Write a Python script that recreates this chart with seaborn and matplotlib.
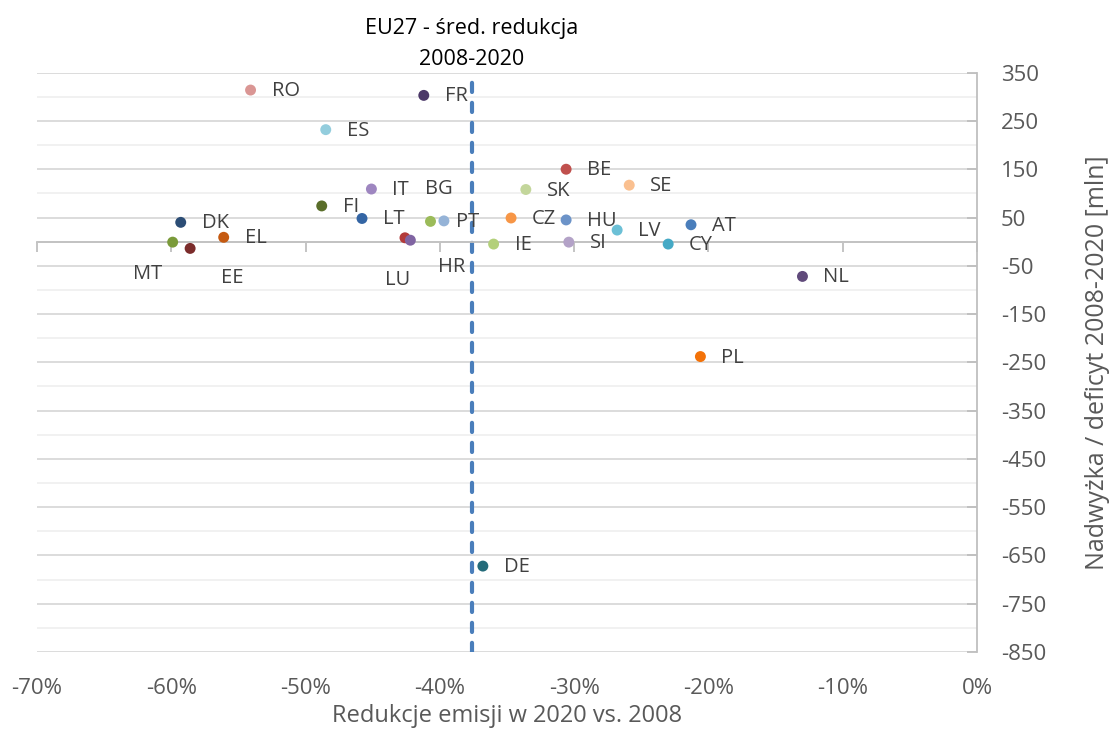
import matplotlib
matplotlib.use('Agg')
import matplotlib.pyplot as plt
import seaborn as sns
import pandas as pd
import numpy as np
from matplotlib.ticker import FixedLocator, FuncFormatter

# %%
# data
countries = ['RO', 'FR', 'ES', 'BE', 'SE', 'SK', 'IT', 'BG', 'FI', 'LT', 'PT', 'CZ',
             'HU', 'LV', 'AT', 'DK', 'EL', 'MT', 'EE', 'LU', 'HR', 'IE', 'SI', 'CY',
             'NL', 'PL', 'DE']
reduction = [-54.1, -41.2, -48.5, -30.6, -25.9, -33.6, -45.1, -40.7, -48.8, -45.8, -39.7, -34.7,
             -30.6, -26.8, -21.3, -59.3, -56.1, -59.9, -58.6, -42.6, -42.2, -36.0, -30.4, -23.0,
             -13.0, -20.6, -36.8]
balance = [314, 303, 232, 150, 117, 108, 109, 42, 74, 48, 43, 49,
           45, 24, 35, 40, 9, -1, -14, 8, 3, -5, -1, -5,
           -72, -238, -672]
colors = ['#da9694', '#4b3868', '#93cddd', '#c0504d', '#fac090', '#c3d69b', '#9e86c0', '#9bbb59',
          '#5a6e2a', '#3465a4', '#95b3d7', '#f79646', '#6c93c8', '#6cc0d6', '#4a7ebb', '#2c4d75',
          '#c55a11', '#7a9a3a', '#7b2c2b', '#b33a3a', '#8064a2', '#b3d07a', '#b3a2c7', '#45a9c5',
          '#604a7b', '#f37209', '#246b7a']
eu_avg = -37.6
x_ticks = np.arange(-70, 1, 10)

df = pd.DataFrame({'country': countries, 'reduction': reduction, 'balance': balance})

# labels that are not just to the right of the point (pixels)
label_offsets = {'BG': (8, 32, 'center'), 'PT': (12, -1, 'left'),
                 'MT': (-25, -32, 'center'), 'EE': (42, -30, 'center'),
                 'LU': (-7, -42, 'center'), 'HR': (41, -27, 'center')}

# %%
sns.set_theme(style='white')
plt.rcParams['font.family'] = ['Open Sans', 'DejaVu Sans']
plt.rcParams['axes.unicode_minus'] = False

fig = plt.figure(figsize=(11.09, 7.29), dpi=100)
ax = fig.add_axes([0.0334, 0.1056, 0.8476, 0.7947])

ax.axvline(eu_avg, color='#4a7ebb', lw=3, linestyle=(0, (2.2, 2.6)),
           dash_capstyle='round', zorder=2)

sns.scatterplot(data=df, x='reduction', y='balance', hue='country',
                palette=dict(zip(countries, colors)), s=62, edgecolor='none',
                legend=False, ax=ax, zorder=3)

for c, xv, yv in zip(countries, reduction, balance):
    dx, dy, ha = label_offsets.get(c, (21, -1, 'left'))
    ax.annotate(c, (xv, yv), xytext=(dx, dy), textcoords='offset pixels',
                ha=ha, va='center', fontsize=14.5, color='#404040', zorder=4)

ax.annotate('EU27 - śred. redukcja\n2008-2020', xy=(eu_avg, 1),
            xycoords=('data', 'axes fraction'), xytext=(0, 3), textcoords='offset pixels',
            ha='center', va='bottom', fontsize=15.5, color='black', linespacing=1.6)

ax.set_xlim(-70, 0)
ax.set_ylim(-850, 350)

# y axis on the right
ax.yaxis.tick_right()
ax.yaxis.set_label_position('right')
ax.yaxis.set_major_locator(FixedLocator(np.arange(-850, 351, 100)))
ax.yaxis.set_minor_locator(FixedLocator(np.arange(-800, 301, 100)))
ax.tick_params(axis='y', which='major', right=True, direction='in', length=7,
               width=1.3, color='#bfbfbf', pad=17, labelsize=16, labelcolor='#595959')
ax.tick_params(axis='y', which='minor', length=0)
ax.grid(axis='y', which='major', color='#d9d9d9', lw=1.3)
ax.grid(axis='y', which='minor', color='#f0f0f0', lw=1.3)
ax.set_axisbelow(True)
ax.set_ylabel('Nadwyżka / deficyt 2008-2020 [mln]', fontsize=18, color='#595959',
              labelpad=28)

# x axis line at zero, labels at the bottom
ax.spines['bottom'].set_position(('data', 0))
ax.spines['bottom'].set_color('#bfbfbf')
ax.spines['bottom'].set_linewidth(1.3)
ax.spines['right'].set_color('#bfbfbf')
ax.spines['right'].set_linewidth(1.3)
ax.spines['left'].set_visible(False)
ax.spines['top'].set_visible(False)
ax.xaxis.set_major_locator(FixedLocator(x_ticks))
ax.tick_params(axis='x', bottom=True, direction='out', length=7, width=1.3,
               color='#bfbfbf', labelbottom=False)
ax.set_xlabel('')

sec = ax.secondary_xaxis(0)
sec.xaxis.set_major_locator(FixedLocator(x_ticks))
sec.xaxis.set_major_formatter(FuncFormatter(lambda v, p: f'{v:.0f}%'))
sec.tick_params(length=0, pad=19, labelsize=16, labelcolor='#595959')
sec.spines['bottom'].set_visible(False)
sec.set_xlabel('Redukcje emisji w 2020 vs. 2008', fontsize=17, color='#595959', labelpad=3)

fig.savefig('out.png', dpi=100)
